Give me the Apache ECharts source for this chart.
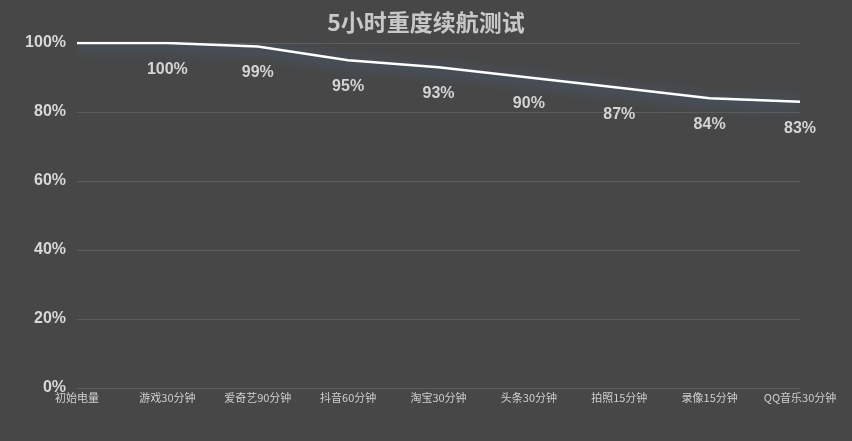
<!DOCTYPE html>
<html><head><meta charset="utf-8">
<script src="https://cdn.jsdelivr.net/npm/echarts@6/dist/echarts.min.js"></script>
<style>html,body{margin:0;padding:0;background:#474747}#c{width:852px;height:441px}</style>
</head><body><div id="c"></div>
<script>
const categories = ['初始电量','游戏30分钟','爱奇艺90分钟','抖音60分钟','淘宝30分钟','头条30分钟','拍照15分钟','录像15分钟','QQ音乐30分钟'];
const battery = [100,100,99,95,93,90,87,84,83];
const yTicks = [0,20,40,60,80,100];

const chart = echarts.init(document.getElementById('c'));
chart.setOption({
  backgroundColor:'#474747',
  title:{text:'5小时重度续航测试',left:'center',top:6,textStyle:{color:'#c8c8c8',fontSize:23,fontWeight:'bold',fontFamily:'Noto Sans CJK SC'}},
  grid:{left:77,right:52,top:43,bottom:53},
  xAxis:{type:'category',data:categories,boundaryGap:false,
    axisLine:{show:false},axisTick:{show:false},
    axisLabel:{color:'#cfcfcf',fontSize:11,margin:4,interval:0,fontFamily:'Noto Sans CJK SC'}},
  yAxis:{type:'value',min:0,max:100,interval:20,
    axisLine:{show:false},axisTick:{show:false},
    splitLine:{lineStyle:{color:'#5c5c5c',width:1}},
    axisLabel:{color:'#d8d8d8',fontSize:16,margin:11,fontWeight:'bold',fontFamily:'Liberation Sans',formatter:v=>v+'%'}},
  series:[{type:'line',data:battery.map((v,i)=>({value:v,label:{show:i>0}})),
    showSymbol:true,symbol:'circle',symbolSize:1,
    itemStyle:{color:'rgba(255,255,255,0)'},
    lineStyle:{color:'#ffffff',width:2.5,shadowColor:'rgba(70,120,170,1)',shadowBlur:14,shadowOffsetY:3},
    label:{show:true,position:'bottom',distance:18,color:'#d4d4d4',fontSize:16,fontWeight:'bold',fontFamily:'Liberation Sans',formatter:p=>p.value+'%'}}]
});
</script></body></html>
